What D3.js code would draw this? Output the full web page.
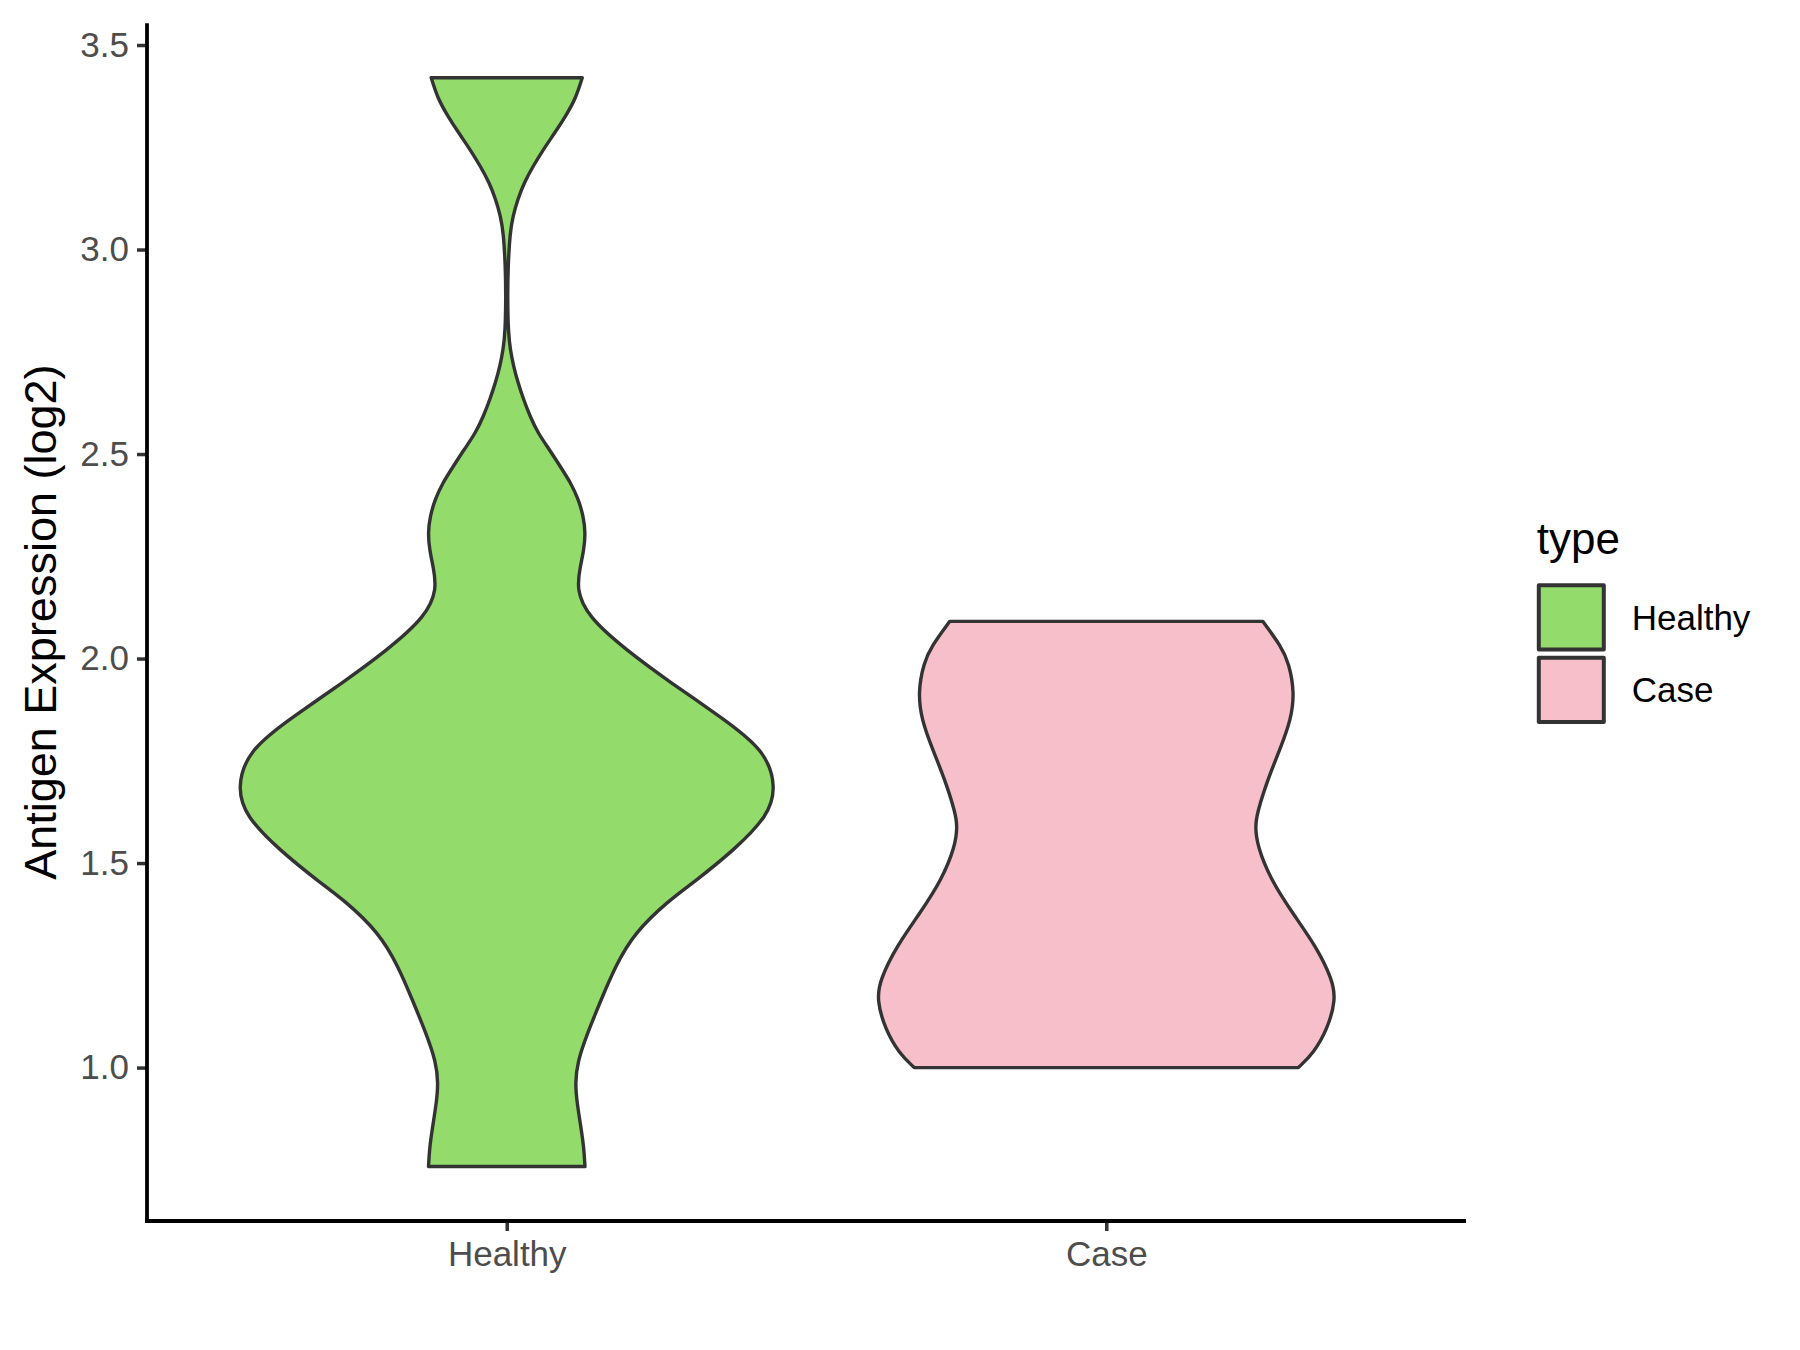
<!DOCTYPE html>
<html>
<head>
<meta charset="utf-8">
<script src="https://cdn.jsdelivr.net/npm/d3@7"></script>
<style>
  html, body { margin: 0; padding: 0; background: #ffffff; }
  svg { display: block; }
  text { font-family: "Liberation Sans", Arial, Helvetica, sans-serif; }
</style>
</head>
<body>
<svg id="chart" width="1800" height="1350"></svg>
<script>
// ---- data ----
const categories = ["Healthy", "Case"];
const legendTitle = "type";
const yAxisTitle = "Antigen Expression (log2)";
const yTickValues = [1.0, 1.5, 2.0, 2.5, 3.0, 3.5];
const fillColors = ["#93DB6A", "#F7BFCA"];

// violin outline: expression value and relative density (Healthy max = 1)
const healthyValues = [3.420, 3.368, 3.327, 3.286, 3.245, 3.204, 3.164, 3.123, 3.082, 3.040,
  2.960, 2.878, 2.797, 2.756, 2.715, 2.674, 2.634, 2.593, 2.552, 2.511, 2.470, 2.430, 2.389,
  2.348, 2.307, 2.266, 2.226, 2.169, 2.103, 2.022, 1.940, 1.859, 1.777, 1.684, 1.614, 1.533,
  1.451, 1.410, 1.329, 1.247, 1.166, 1.084, 1.014, 0.961, 0.916, 0.846, 0.803, 0.758];
const healthyDensity = [0.280, 0.255, 0.219, 0.179, 0.136, 0.098, 0.065, 0.041, 0.023, 0.012,
  0.005, 0.003, 0.006, 0.013, 0.025, 0.042, 0.062, 0.086, 0.115, 0.158, 0.198, 0.237, 0.266,
  0.284, 0.292, 0.286, 0.273, 0.258, 0.300, 0.440, 0.610, 0.790, 0.958, 1.000, 0.967, 0.845,
  0.690, 0.603, 0.472, 0.402, 0.350, 0.299, 0.262, 0.254, 0.260, 0.277, 0.286, 0.290];

const caseValues = [2.091, 2.030, 1.989, 1.916, 1.850, 1.785, 1.704, 1.622, 1.590, 1.541,
  1.459, 1.378, 1.296, 1.215, 1.166, 1.093, 1.036, 1.000];
const caseDensity = [0.580, 0.648, 0.677, 0.698, 0.684, 0.648, 0.598, 0.559, 0.552, 0.560,
  0.610, 0.690, 0.778, 0.838, 0.851, 0.819, 0.769, 0.712];

const violins = [
  { cat: categories[0], values: healthyValues, density: healthyDensity, fill: fillColors[0] },
  { cat: categories[1], values: caseValues, density: caseDensity, fill: fillColors[1] }
];

// ---- layout ----
const panel = { left: 147, right: 1466, top: 23.3, bottom: 1221 };
const svg = d3.select("#chart");
const FONT_TICK = 35, FONT_TITLE = 44, FONT_YTITLE = 45;
const TICK_COL = "#333333", LABEL_COL = "#4D4D4D", OUTLINE = "#333333";

const allVals = healthyValues.concat(caseValues);
const vmin = d3.min(allVals), vmax = d3.max(allVals);
const pad = (vmax - vmin) * 0.05;

const y = d3.scaleLinear().domain([vmin - pad, vmax + pad]).range([panel.bottom, panel.top]);
const x = d3.scalePoint().domain(categories).range([panel.left, panel.right]).padding(0.6);
const w = d3.scaleLinear().domain([0, 1]).range([0, 0.45 * x.step()]);

// ---- violins ----
const g = svg.append("g");
violins.forEach(v => {
  const pts = v.values.map((val, i) => ({ v: val, d: v.density[i] }));
  const cx = x(v.cat);
  const area = d3.area()
    .y(d => y(d.v))
    .x0(d => cx - w(d.d))
    .x1(d => cx + w(d.d))
    .curve(d3.curveBasis);
  g.append("path")
    .attr("d", area(pts))
    .attr("fill", v.fill)
    .attr("stroke", OUTLINE)
    .attr("stroke-width", 3.4)
    .attr("stroke-linejoin", "round");
});

// ---- axes ----
const yAxis = d3.axisLeft(y).tickValues(yTickValues).tickFormat(d3.format(".1f")).tickSizeOuter(0).tickSize(10).tickPadding(8);
const gy = svg.append("g").attr("transform", `translate(${panel.left},0)`).call(yAxis);
gy.select(".domain").remove();
gy.selectAll(".tick line").attr("stroke", TICK_COL).attr("stroke-width", 3.5);
gy.selectAll(".tick text").attr("fill", LABEL_COL).attr("font-size", FONT_TICK)
  .attr("font-family", "Liberation Sans, Arial, sans-serif");

const xAxis = d3.axisBottom(x).tickSizeOuter(0).tickSize(10).tickPadding(10);
const gx = svg.append("g").attr("transform", `translate(0,${panel.bottom})`).call(xAxis);
gx.select(".domain").remove();
gx.selectAll(".tick line").attr("stroke", TICK_COL).attr("stroke-width", 3.5);
gx.selectAll(".tick text").attr("fill", LABEL_COL).attr("font-size", FONT_TICK)
  .attr("font-family", "Liberation Sans, Arial, sans-serif");

// axis lines (theme_classic)
svg.append("line").attr("x1", panel.left).attr("x2", panel.left)
  .attr("y1", panel.top).attr("y2", panel.bottom + 2)
  .attr("stroke", "#000").attr("stroke-width", 3.8);
svg.append("line").attr("x1", panel.left - 2).attr("x2", panel.right)
  .attr("y1", panel.bottom).attr("y2", panel.bottom)
  .attr("stroke", "#000").attr("stroke-width", 3.8);

// y axis title
svg.append("text")
  .attr("transform", `translate(56,${(panel.top + panel.bottom) / 2}) rotate(-90)`)
  .attr("text-anchor", "middle")
  .attr("font-size", FONT_YTITLE)
  .attr("fill", "#000")
  .text(yAxisTitle);

// ---- legend ----
const leg = { x: 1538.8, titleBase: 554, keyTop: 585.3, keyW: 65, keyH: 64.3, gap: 8.1, textX: 1631.7 };
svg.append("text").attr("x", leg.x - 2).attr("y", leg.titleBase)
  .attr("font-size", FONT_TITLE).attr("fill", "#000").text(legendTitle);
violins.forEach((v, i) => {
  const top = leg.keyTop + i * (leg.keyH + leg.gap);
  svg.append("rect").attr("x", leg.x).attr("y", top)
    .attr("width", leg.keyW).attr("height", leg.keyH)
    .attr("fill", v.fill).attr("stroke", OUTLINE).attr("stroke-width", 4)
    .attr("stroke-linejoin", "round");
  svg.append("text").attr("x", leg.textX).attr("y", top + leg.keyH / 2)
    .attr("dy", "0.36em")
    .attr("font-size", FONT_TICK).attr("fill", "#000").text(v.cat);
});
</script>
</body>
</html>
